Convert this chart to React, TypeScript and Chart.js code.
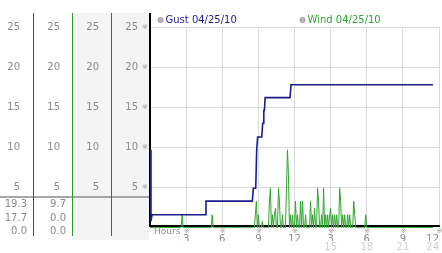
import React, { useEffect, useRef } from 'react';
import { Chart, registerables } from 'chart.js';

Chart.register(...registerables);

// ---------- data ----------
const yTickValues = [5, 10, 15, 20, 25];
const xTickHours = [0, 3, 6, 9, 12, 15, 18, 21, 24];
const xTopLabels = ['', '3', '6', '9', '12', '3', '6', '9', '12'];
const xBottomLabels = ['', '', '', '', '', '15', '18', '21', '24'];

const gustLabel = 'Gust 04/25/10';
const windLabel = 'Wind 04/25/10';

// gust: hours / values (step changes)
const gustHours = [0, 0.08, 0.17, 4.57, 4.65, 8.5, 8.58, 8.78, 8.86, 8.94, 9.28, 9.36, 9.41, 9.45, 9.5, 9.56, 11.63, 11.71, 23.5];
const gustValues = [9.7, 0.8, 1.6, 1.6, 3.3, 3.3, 4.9, 4.9, 9.7, 11.3, 11.3, 13.0, 13.0, 14.6, 14.6, 16.2, 16.2, 17.8, 17.8];

// wind: one sample every 5 minutes, one row per hour
const windStepMinutes = 5;
const windValues = [
  0, 0, 0, 0, 0, 0, 0, 0, 0, 0, 0, 0, // 0h
  0, 0, 0, 0, 0, 0, 0, 0, 0, 0, 0, 0, // 1h
  0, 0, 0, 0, 0, 0, 0, 0, 1.6, 0, 0, 0, // 2h
  0, 0, 0, 0, 0, 0, 0, 0, 0, 0, 0, 0, // 3h
  0, 0, 0, 0, 0, 0, 0, 0, 0, 0, 0, 0, // 4h
  0, 0, 1.6, 0, 0, 0, 0, 0, 0, 0, 0, 0, // 5h
  0, 0, 0, 0, 0, 0, 0, 0, 0, 0, 0, 0, // 6h
  0, 0, 0, 0, 0, 0, 0, 0, 0, 0, 0, 0, // 7h
  0, 0, 0, 0, 0, 0, 0, 0, 0, 1.6, 3.3, 0, // 8h
  1.6, 0, 0, 0, 0.8, 0, 0, 0, 0, 0, 0, 3.3, // 9h
  4.9, 0, 1.6, 0, 1.6, 2.4, 0, 0, 4.9, 3.3, 0, 0, // 10h
  1.6, 0, 0, 0, 4.9, 9.7, 6.5, 0, 1.6, 0, 1.6, 0, // 11h
  0, 3.3, 0, 1.6, 0, 0, 3.3, 0, 3.3, 0, 0, 1.6, // 12h
  0, 0, 0, 0, 3.3, 0, 1.6, 0, 2.4, 0, 0, 4.9, // 13h
  3.3, 0, 0, 1.6, 0, 4.9, 0, 1.6, 0, 1.6, 0, 1.6, // 14h
  2.4, 0, 1.6, 0, 1.6, 0, 1.6, 0, 0, 4.9, 3.3, 0, // 15h
  1.6, 0, 1.6, 0, 0, 1.6, 0, 1.6, 0, 0, 0, 3.3, // 16h
  1.6, 0, 0, 0, 0, 0, 0, 0, 0, 0, 0, 1.6, // 17h
  0, 0, 0, 0, 0, 0, 0, 0, 0, 0, 0, 0, // 18h
  0, 0, 0, 0, 0, 0, 0, 0, 0, 0, 0, 0, // 19h
  0, 0, 0, 0, 0, 0, 0, 0, 0, 0, 0, 0, // 20h
  0, 0, 0, 0, 0, 0, 0, 0, 0, 0, 0, 0, // 21h
  0, 0, 0, 0, 0, 0, 0, 0, 0, 0, 0, 0, // 22h
  0, 0, 0, 0, 0, 0, 0, // 23h
];

// stats shown under the left columns (max / current / min)
const gustStats = ['19.3', '17.7', '0.0'];
const windStats = ['9.7', '0.0', '0.0'];

// ---------- style ----------
const FONT = 'DejaVu Sans';
const GUST_COLOR = '#1c1c8c';
const WIND_COLOR = '#2ea32e';
const LABEL_GRAY = '#8a8a8a';
const GRID = '#dadada';
const Y_MIN = 0.2;
const Y_MAX = 25;
const PANEL_TOP = 13;
const PANEL_BOTTOM = 240;
const LINE_BOTTOM = 236;
const DIVIDER_Y = 196;
const STATS_Y = [204.5, 218, 231.5];
const LEGEND_Y = 20;
const LEGEND_X = [160.5, 302.5];
const LEGEND_TEXT = [GUST_COLOR, WIND_COLOR];
const X_MARK_Y = 231;
const HOURS_Y = 232;

const decorPlugin = {
  id: 'decor',
  beforeDraw(chart: any) {
    const { ctx, scales } = chart;
    ctx.save();
    ctx.fillStyle = '#f4f4f4';
    ctx.fillRect(scales.y3.left, PANEL_TOP, scales.y4.right - 1 - scales.y3.left, PANEL_BOTTOM - PANEL_TOP);
    ctx.fillStyle = '#a6a6a6';
    ctx.fillRect(0, DIVIDER_Y, scales.y4.right, 2);
    ctx.restore();
  },
  afterDraw(chart: any) {
    const { ctx, scales, chartArea } = chart;
    ctx.save();
    // axis line extensions above / below the plot area
    ['y1', 'y2', 'y3'].forEach((id) => {
      const s = scales[id];
      ctx.strokeStyle = s.options.border.color;
      ctx.lineWidth = 1;
      const x = Math.round(s.right) + 0.5;
      ctx.beginPath();
      ctx.moveTo(x, PANEL_TOP);
      ctx.lineTo(x, chartArea.top);
      ctx.moveTo(x, chartArea.bottom);
      ctx.lineTo(x, LINE_BOTTOM);
      ctx.stroke();
    });
    const y4 = scales.y4;
    ctx.strokeStyle = '#000';
    ctx.lineWidth = 2;
    ctx.beginPath();
    ctx.moveTo(Math.round(y4.right), PANEL_TOP);
    ctx.lineTo(Math.round(y4.right), chartArea.top);
    ctx.stroke();

    // small reference marks at ticks
    ctx.font = `7px ${FONT}`;
    ctx.fillStyle = '#9a9a9a';
    ctx.textAlign = 'center';
    ctx.textBaseline = 'middle';
    yTickValues.forEach((v) => ctx.fillText('※', y4.right - 5, y4.getPixelForValue(v)));
    xTickHours.forEach((h, i) => {
      if (i === 0) return;
      ctx.fillText('※', scales.x.getPixelForValue(h) + 0.5, X_MARK_Y);
    });

    // axis title
    ctx.font = `9px ${FONT}`;
    ctx.fillStyle = LABEL_GRAY;
    ctx.textAlign = 'left';
    ctx.fillText('Hours', chartArea.left + 4, HOURS_Y);

    // stats
    ctx.font = `10px ${FONT}`;
    ctx.textAlign = 'right';
    [[scales.y1, gustStats], [scales.y2, windStats]].forEach(([s, vals]: any) => {
      vals.forEach((t: string, i: number) => ctx.fillText(t, s.right - 6, STATS_Y[i]));
    });

    // legend
    chart.data.datasets.forEach((ds: any, i: number) => {
      const lx = LEGEND_X[i];
      ctx.beginPath();
      ctx.arc(lx, LEGEND_Y, 2.6, 0, Math.PI * 2);
      ctx.fillStyle = '#b8b8b8';
      ctx.fill();
      ctx.strokeStyle = '#909090';
      ctx.lineWidth = 0.8;
      ctx.stroke();
      ctx.fillStyle = LEGEND_TEXT[i];
      ctx.textAlign = 'left';
      ctx.font = `10px ${FONT}`;
      ctx.fillText(ds.label, lx + 5, LEGEND_Y);
    });
    ctx.restore();
  },
};

const yAxis = (weight: number, width: number, color: string, padding: number, grid: boolean, borderWidth: number) => ({
  type: 'linear',
  position: 'left',
  weight,
  min: Y_MIN,
  max: Y_MAX,
  afterBuildTicks: (s: any) => {
    s.ticks = yTickValues.map((v) => ({ value: v }));
  },
  afterFit: (s: any) => {
    s.width = width;
    s.paddingTop = 0;
    s.paddingBottom = 0;
  },
  grid: { display: grid, color: GRID, drawTicks: false, lineWidth: 1 },
  border: { display: true, color, width: borderWidth },
  ticks: { color: LABEL_GRAY, padding, font: { family: FONT, size: 10 }, callback: (v: any) => String(v) },
});

export default function App() {
  const ref = useRef<HTMLCanvasElement>(null);
  useEffect(() => {
    document.body.style.margin = '0';
    const stepH = windStepMinutes / 60;
    const chart = new Chart(ref.current as HTMLCanvasElement, {
      type: 'line',
      data: {
        datasets: [
          {
            label: gustLabel,
            data: gustHours.map((h, i) => ({ x: h, y: gustValues[i] })),
            borderColor: GUST_COLOR,
            borderWidth: 1.6,
            pointRadius: 0,
            tension: 0,
            xAxisID: 'x',
            yAxisID: 'y4',
          },
          {
            label: windLabel,
            data: windValues.map((v, i) => ({ x: i * stepH, y: v })),
            borderColor: WIND_COLOR,
            borderWidth: 1,
            pointRadius: 0,
            tension: 0,
            clip: false,
            xAxisID: 'x',
            yAxisID: 'y4',
          },
        ],
      } as any,
      options: {
        animation: false,
        responsive: false,
        devicePixelRatio: 1,
        layout: { padding: { top: 27, right: 3, left: 0, bottom: 0 } },
        plugins: { legend: { display: false }, tooltip: { enabled: false } },
        scales: {
          x: {
            type: 'linear',
            position: 'bottom',
            weight: 0,
            min: 0,
            max: 24,
            afterBuildTicks: (s: any) => {
              s.ticks = xTickHours.map((v) => ({ value: v }));
            },
            afterFit: (s: any) => {
              s.height = 15;
              s.paddingLeft = 0;
              s.paddingRight = 0;
            },
            grid: { color: GRID, drawTicks: false },
            border: { color: '#000', width: 2 },
            ticks: {
              autoSkip: false,
              maxRotation: 0,
              minRotation: 0,
              align: 'inner',
              padding: 7,
              color: LABEL_GRAY,
              font: { family: FONT, size: 10 },
              callback: (_v: any, i: number) => xTopLabels[i],
            },
          },
          x2: {
            type: 'linear',
            position: 'bottom',
            weight: 1,
            min: 0,
            max: 24,
            afterBuildTicks: (s: any) => {
              s.ticks = xTickHours.map((v) => ({ value: v }));
            },
            afterFit: (s: any) => {
              s.height = 12;
              s.paddingLeft = 0;
              s.paddingRight = 0;
            },
            grid: { display: false, drawTicks: false },
            border: { display: false },
            ticks: {
              autoSkip: false,
              maxRotation: 0,
              minRotation: 0,
              align: 'inner',
              padding: 0,
              color: '#cfcfcf',
              font: { family: FONT, size: 10 },
              callback: (_v: any, i: number) => xBottomLabels[i],
            },
          },
          y1: yAxis(4, 33, '#2348b8', 13, false, 1),
          y2: yAxis(3, 39, '#2e9a2e', 12, false, 1),
          y3: yAxis(2, 39, '#c03030', 12, false, 1),
          y4: yAxis(1, 39, '#000000', 12, true, 2),
        } as any,
      },
      plugins: [decorPlugin],
    });
    return () => chart.destroy();
  }, []);
  return (
    <div style={{ position: 'fixed', left: 0, top: 0, width: 442, height: 253 }}>
      <canvas ref={ref} width={442} height={253} style={{ display: 'block' }} />
    </div>
  );
}
